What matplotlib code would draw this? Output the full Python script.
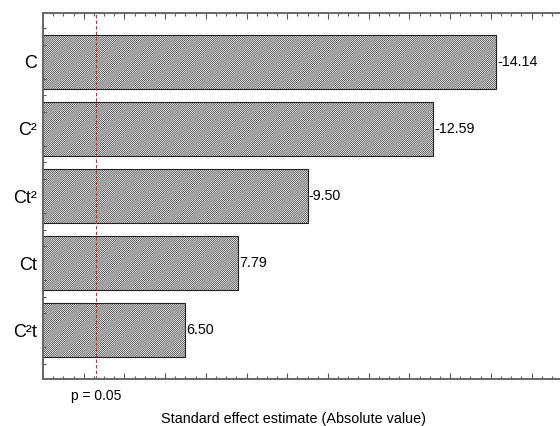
import matplotlib
matplotlib.use("Agg")
import matplotlib.pyplot as plt
from matplotlib.ticker import MultipleLocator, NullFormatter
import numpy as np

terms = ["C", "C²", "Ct²", "Ct", "C²t"]
effects = [-14.14, -12.59, -9.50, 7.79, 6.50]
p_critical = 4.303
p_label = "p = 0.05"
x_label = "Standard effect estimate (Absolute value)"

plt.rcParams["font.family"] = ["Liberation Sans", "DejaVu Sans"]
plt.rcParams["hatch.linewidth"] = 0.45
plt.rcParams["hatch.color"] = "#444444"

fig = plt.figure(figsize=(5.6, 4.26), dpi=100)
ax = fig.add_axes([0.0768, 0.1103, 0.9232, 0.8592])

pos = np.arange(len(terms))
mags = np.abs(effects)
ax.barh(pos, mags, height=0.8, left=0, color="white", edgecolor="#222222",
        linewidth=0.8, hatch="/" * 16)

for y, m, e in zip(pos, mags, effects):
    ax.text(m + 0.02, y, f"{e:.2f}", va="center", ha="left", fontsize=10.3)

ax.axvline(p_critical, color="#e8202a", linestyle=(0, (3, 2)), linewidth=0.8)

ax.set_xlim(3.0, 15.7)
ax.set_ylim(len(terms) - 0.27, -0.73)
ax.set_yticks(pos)
ax.set_yticklabels(terms, fontsize=13)
ax.yaxis.set_minor_locator(MultipleLocator(0.25))

ax.xaxis.set_major_locator(MultipleLocator(1))
ax.xaxis.set_minor_locator(MultipleLocator(0.25))
ax.xaxis.set_major_formatter(NullFormatter())

ax.tick_params(axis="both", which="both", direction="in", color="#555555")
ax.tick_params(axis="x", which="major", length=4, top=True, width=0.8)
ax.tick_params(axis="x", which="minor", length=2.5, top=True, width=0.8)
ax.tick_params(axis="y", which="major", length=0, pad=4)
ax.tick_params(axis="y", which="minor", length=2.5, width=0.8)

for side in ("left", "top", "bottom"):
    ax.spines[side].set_color("#666666")
    ax.spines[side].set_linewidth(1.4)
ax.spines["right"].set_visible(False)

ax.text(p_critical, -0.028, p_label, transform=ax.get_xaxis_transform(),
        ha="center", va="top", fontsize=10)
ax.set_xlabel(x_label, fontsize=10.4)
ax.xaxis.set_label_coords((293 - 43) / 517, -0.09)

fig.savefig("out.png", dpi=100)
